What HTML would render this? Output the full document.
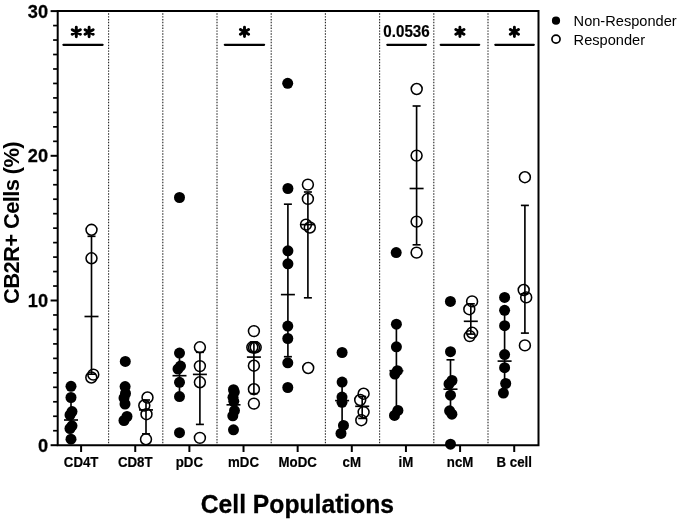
<!DOCTYPE html><html><head><meta charset="utf-8"><style>html,body{margin:0;padding:0;background:#fff;}svg{display:block;will-change:transform;}text{font-family:"Liberation Sans",sans-serif;}</style></head><body>
<svg width="685" height="520" viewBox="0 0 685 520">
<line x1="108.6" y1="13.3" x2="108.6" y2="444" stroke="#222" stroke-width="1.1" stroke-dasharray="1.43 1.427"/>
<line x1="162.8" y1="13.3" x2="162.8" y2="444" stroke="#222" stroke-width="1.1" stroke-dasharray="1.43 1.427"/>
<line x1="217.0" y1="13.3" x2="217.0" y2="444" stroke="#222" stroke-width="1.1" stroke-dasharray="1.43 1.427"/>
<line x1="271.2" y1="13.3" x2="271.2" y2="444" stroke="#222" stroke-width="1.1" stroke-dasharray="1.43 1.427"/>
<line x1="325.4" y1="13.3" x2="325.4" y2="444" stroke="#222" stroke-width="1.1" stroke-dasharray="1.43 1.427"/>
<line x1="379.6" y1="13.3" x2="379.6" y2="444" stroke="#222" stroke-width="1.1" stroke-dasharray="1.43 1.427"/>
<line x1="433.8" y1="13.3" x2="433.8" y2="444" stroke="#222" stroke-width="1.1" stroke-dasharray="1.43 1.427"/>
<line x1="488.0" y1="13.3" x2="488.0" y2="444" stroke="#222" stroke-width="1.1" stroke-dasharray="1.43 1.427"/>
<path d="M57.7 11 H538.5 V445.2 H57.7 Z" fill="none" stroke="#000" stroke-width="2"/>
<line x1="50.6" y1="445.20" x2="57.7" y2="445.20" stroke="#000" stroke-width="2"/>
<line x1="53.1" y1="430.73" x2="57.7" y2="430.73" stroke="#000" stroke-width="1.7"/>
<line x1="53.1" y1="416.26" x2="57.7" y2="416.26" stroke="#000" stroke-width="1.7"/>
<line x1="53.1" y1="401.79" x2="57.7" y2="401.79" stroke="#000" stroke-width="1.7"/>
<line x1="53.1" y1="387.32" x2="57.7" y2="387.32" stroke="#000" stroke-width="1.7"/>
<line x1="53.1" y1="372.85" x2="57.7" y2="372.85" stroke="#000" stroke-width="1.7"/>
<line x1="53.1" y1="358.38" x2="57.7" y2="358.38" stroke="#000" stroke-width="1.7"/>
<line x1="53.1" y1="343.91" x2="57.7" y2="343.91" stroke="#000" stroke-width="1.7"/>
<line x1="53.1" y1="329.44" x2="57.7" y2="329.44" stroke="#000" stroke-width="1.7"/>
<line x1="53.1" y1="314.97" x2="57.7" y2="314.97" stroke="#000" stroke-width="1.7"/>
<line x1="50.6" y1="300.50" x2="57.7" y2="300.50" stroke="#000" stroke-width="2"/>
<line x1="53.1" y1="286.03" x2="57.7" y2="286.03" stroke="#000" stroke-width="1.7"/>
<line x1="53.1" y1="271.56" x2="57.7" y2="271.56" stroke="#000" stroke-width="1.7"/>
<line x1="53.1" y1="257.09" x2="57.7" y2="257.09" stroke="#000" stroke-width="1.7"/>
<line x1="53.1" y1="242.62" x2="57.7" y2="242.62" stroke="#000" stroke-width="1.7"/>
<line x1="53.1" y1="228.15" x2="57.7" y2="228.15" stroke="#000" stroke-width="1.7"/>
<line x1="53.1" y1="213.68" x2="57.7" y2="213.68" stroke="#000" stroke-width="1.7"/>
<line x1="53.1" y1="199.21" x2="57.7" y2="199.21" stroke="#000" stroke-width="1.7"/>
<line x1="53.1" y1="184.74" x2="57.7" y2="184.74" stroke="#000" stroke-width="1.7"/>
<line x1="53.1" y1="170.27" x2="57.7" y2="170.27" stroke="#000" stroke-width="1.7"/>
<line x1="50.6" y1="155.80" x2="57.7" y2="155.80" stroke="#000" stroke-width="2"/>
<line x1="53.1" y1="141.33" x2="57.7" y2="141.33" stroke="#000" stroke-width="1.7"/>
<line x1="53.1" y1="126.86" x2="57.7" y2="126.86" stroke="#000" stroke-width="1.7"/>
<line x1="53.1" y1="112.39" x2="57.7" y2="112.39" stroke="#000" stroke-width="1.7"/>
<line x1="53.1" y1="97.92" x2="57.7" y2="97.92" stroke="#000" stroke-width="1.7"/>
<line x1="53.1" y1="83.45" x2="57.7" y2="83.45" stroke="#000" stroke-width="1.7"/>
<line x1="53.1" y1="68.98" x2="57.7" y2="68.98" stroke="#000" stroke-width="1.7"/>
<line x1="53.1" y1="54.51" x2="57.7" y2="54.51" stroke="#000" stroke-width="1.7"/>
<line x1="53.1" y1="40.04" x2="57.7" y2="40.04" stroke="#000" stroke-width="1.7"/>
<line x1="53.1" y1="25.57" x2="57.7" y2="25.57" stroke="#000" stroke-width="1.7"/>
<line x1="50.6" y1="11.10" x2="57.7" y2="11.10" stroke="#000" stroke-width="2"/>
<text transform="translate(48.1 451.80) scale(0.95 1)" font-size="19.2" font-weight="bold" text-anchor="end" stroke="#000" stroke-width="0.25">0</text>
<text transform="translate(48.1 307.10) scale(0.95 1)" font-size="19.2" font-weight="bold" text-anchor="end" stroke="#000" stroke-width="0.25">10</text>
<text transform="translate(48.1 162.40) scale(0.95 1)" font-size="19.2" font-weight="bold" text-anchor="end" stroke="#000" stroke-width="0.25">20</text>
<text transform="translate(48.1 17.70) scale(0.95 1)" font-size="19.2" font-weight="bold" text-anchor="end" stroke="#000" stroke-width="0.25">30</text>
<line x1="81.10" y1="445" x2="81.10" y2="452" stroke="#000" stroke-width="2"/>
<text transform="translate(81.10 466.5) scale(0.94 1)" font-size="14.1" font-weight="bold" text-anchor="middle" stroke="#000" stroke-width="0.2">CD4T</text>
<line x1="135.24" y1="445" x2="135.24" y2="452" stroke="#000" stroke-width="2"/>
<text transform="translate(135.24 466.5) scale(0.94 1)" font-size="14.1" font-weight="bold" text-anchor="middle" stroke="#000" stroke-width="0.2">CD8T</text>
<line x1="189.38" y1="445" x2="189.38" y2="452" stroke="#000" stroke-width="2"/>
<text transform="translate(189.38 466.5) scale(0.94 1)" font-size="14.1" font-weight="bold" text-anchor="middle" stroke="#000" stroke-width="0.2">pDC</text>
<line x1="243.52" y1="445" x2="243.52" y2="452" stroke="#000" stroke-width="2"/>
<text transform="translate(243.52 466.5) scale(0.94 1)" font-size="14.1" font-weight="bold" text-anchor="middle" stroke="#000" stroke-width="0.2">mDC</text>
<line x1="297.66" y1="445" x2="297.66" y2="452" stroke="#000" stroke-width="2"/>
<text transform="translate(297.66 466.5) scale(0.94 1)" font-size="14.1" font-weight="bold" text-anchor="middle" stroke="#000" stroke-width="0.2">MoDC</text>
<line x1="351.80" y1="445" x2="351.80" y2="452" stroke="#000" stroke-width="2"/>
<text transform="translate(351.80 466.5) scale(0.94 1)" font-size="14.1" font-weight="bold" text-anchor="middle" stroke="#000" stroke-width="0.2">cM</text>
<line x1="405.94" y1="445" x2="405.94" y2="452" stroke="#000" stroke-width="2"/>
<text transform="translate(405.94 466.5) scale(0.94 1)" font-size="14.1" font-weight="bold" text-anchor="middle" stroke="#000" stroke-width="0.2">iM</text>
<line x1="460.08" y1="445" x2="460.08" y2="452" stroke="#000" stroke-width="2"/>
<text transform="translate(460.08 466.5) scale(0.94 1)" font-size="14.1" font-weight="bold" text-anchor="middle" stroke="#000" stroke-width="0.2">ncM</text>
<line x1="514.22" y1="445" x2="514.22" y2="452" stroke="#000" stroke-width="2"/>
<text transform="translate(514.22 466.5) scale(0.94 1)" font-size="14.1" font-weight="bold" text-anchor="middle" stroke="#000" stroke-width="0.2">B cell</text>
<line x1="71" y1="397.5" x2="71" y2="428" stroke="#000" stroke-width="1.65"/>
<line x1="67" y1="397.5" x2="75" y2="397.5" stroke="#000" stroke-width="1.65"/>
<line x1="67" y1="428" x2="75" y2="428" stroke="#000" stroke-width="1.65"/>
<line x1="64" y1="420.0" x2="78" y2="420.0" stroke="#000" stroke-width="1.65"/>
<line x1="91.5" y1="236.3" x2="91.5" y2="374.2" stroke="#000" stroke-width="1.65"/>
<line x1="87.5" y1="236.3" x2="95.5" y2="236.3" stroke="#000" stroke-width="1.65"/>
<line x1="87.5" y1="374.2" x2="95.5" y2="374.2" stroke="#000" stroke-width="1.65"/>
<line x1="84.5" y1="316.5" x2="98.5" y2="316.5" stroke="#000" stroke-width="1.65"/>
<line x1="146" y1="400" x2="146" y2="433.9" stroke="#000" stroke-width="1.65"/>
<line x1="142" y1="400" x2="150" y2="400" stroke="#000" stroke-width="1.65"/>
<line x1="142" y1="433.9" x2="150" y2="433.9" stroke="#000" stroke-width="1.65"/>
<line x1="139" y1="409.9" x2="153" y2="409.9" stroke="#000" stroke-width="1.65"/>
<line x1="179.5" y1="353.1" x2="179.5" y2="396.6" stroke="#000" stroke-width="1.65"/>
<line x1="175.5" y1="353.1" x2="183.5" y2="353.1" stroke="#000" stroke-width="1.65"/>
<line x1="175.5" y1="396.6" x2="183.5" y2="396.6" stroke="#000" stroke-width="1.65"/>
<line x1="172.5" y1="375.7" x2="186.5" y2="375.7" stroke="#000" stroke-width="1.65"/>
<line x1="199.9" y1="352.3" x2="199.9" y2="424.4" stroke="#000" stroke-width="1.65"/>
<line x1="195.9" y1="352.3" x2="203.9" y2="352.3" stroke="#000" stroke-width="1.65"/>
<line x1="195.9" y1="424.4" x2="203.9" y2="424.4" stroke="#000" stroke-width="1.65"/>
<line x1="192.9" y1="374.4" x2="206.9" y2="374.4" stroke="#000" stroke-width="1.65"/>
<line x1="226.5" y1="404.8" x2="240.5" y2="404.8" stroke="#000" stroke-width="1.65"/>
<line x1="253.9" y1="342" x2="253.9" y2="393.6" stroke="#000" stroke-width="1.65"/>
<line x1="249.9" y1="342" x2="257.9" y2="342" stroke="#000" stroke-width="1.65"/>
<line x1="249.9" y1="393.6" x2="257.9" y2="393.6" stroke="#000" stroke-width="1.65"/>
<line x1="246.9" y1="357.1" x2="260.9" y2="357.1" stroke="#000" stroke-width="1.65"/>
<line x1="287.9" y1="204.2" x2="287.9" y2="356.7" stroke="#000" stroke-width="1.65"/>
<line x1="283.9" y1="204.2" x2="291.9" y2="204.2" stroke="#000" stroke-width="1.65"/>
<line x1="283.9" y1="356.7" x2="291.9" y2="356.7" stroke="#000" stroke-width="1.65"/>
<line x1="280.9" y1="294.6" x2="294.9" y2="294.6" stroke="#000" stroke-width="1.65"/>
<line x1="307.9" y1="192" x2="307.9" y2="297.8" stroke="#000" stroke-width="1.65"/>
<line x1="303.9" y1="192" x2="311.9" y2="192" stroke="#000" stroke-width="1.65"/>
<line x1="303.9" y1="297.8" x2="311.9" y2="297.8" stroke="#000" stroke-width="1.65"/>
<line x1="300.9" y1="224.6" x2="314.9" y2="224.6" stroke="#000" stroke-width="1.65"/>
<line x1="342.1" y1="382.1" x2="342.1" y2="425.4" stroke="#000" stroke-width="1.65"/>
<line x1="338.1" y1="382.1" x2="346.1" y2="382.1" stroke="#000" stroke-width="1.65"/>
<line x1="338.1" y1="425.4" x2="346.1" y2="425.4" stroke="#000" stroke-width="1.65"/>
<line x1="335.1" y1="400.6" x2="349.1" y2="400.6" stroke="#000" stroke-width="1.65"/>
<line x1="362.2" y1="396.5" x2="362.2" y2="418.4" stroke="#000" stroke-width="1.65"/>
<line x1="358.2" y1="396.5" x2="366.2" y2="396.5" stroke="#000" stroke-width="1.65"/>
<line x1="358.2" y1="418.4" x2="366.2" y2="418.4" stroke="#000" stroke-width="1.65"/>
<line x1="355.2" y1="406.3" x2="369.2" y2="406.3" stroke="#000" stroke-width="1.65"/>
<line x1="396.4" y1="324.2" x2="396.4" y2="410.4" stroke="#000" stroke-width="1.65"/>
<line x1="392.4" y1="324.2" x2="400.4" y2="324.2" stroke="#000" stroke-width="1.65"/>
<line x1="392.4" y1="410.4" x2="400.4" y2="410.4" stroke="#000" stroke-width="1.65"/>
<line x1="389.4" y1="370.7" x2="403.4" y2="370.7" stroke="#000" stroke-width="1.65"/>
<line x1="416.6" y1="106" x2="416.6" y2="244.8" stroke="#000" stroke-width="1.65"/>
<line x1="412.6" y1="106" x2="420.6" y2="106" stroke="#000" stroke-width="1.65"/>
<line x1="412.6" y1="244.8" x2="420.6" y2="244.8" stroke="#000" stroke-width="1.65"/>
<line x1="409.6" y1="188.5" x2="423.6" y2="188.5" stroke="#000" stroke-width="1.65"/>
<line x1="450.5" y1="359.8" x2="450.5" y2="414" stroke="#000" stroke-width="1.65"/>
<line x1="446.5" y1="359.8" x2="454.5" y2="359.8" stroke="#000" stroke-width="1.65"/>
<line x1="446.5" y1="414" x2="454.5" y2="414" stroke="#000" stroke-width="1.65"/>
<line x1="443.5" y1="389.2" x2="457.5" y2="389.2" stroke="#000" stroke-width="1.65"/>
<line x1="470.8" y1="303.8" x2="470.8" y2="334.1" stroke="#000" stroke-width="1.65"/>
<line x1="466.8" y1="303.8" x2="474.8" y2="303.8" stroke="#000" stroke-width="1.65"/>
<line x1="466.8" y1="334.1" x2="474.8" y2="334.1" stroke="#000" stroke-width="1.65"/>
<line x1="463.8" y1="321.3" x2="477.8" y2="321.3" stroke="#000" stroke-width="1.65"/>
<line x1="504.6" y1="310.3" x2="504.6" y2="383.5" stroke="#000" stroke-width="1.65"/>
<line x1="500.6" y1="310.3" x2="508.6" y2="310.3" stroke="#000" stroke-width="1.65"/>
<line x1="500.6" y1="383.5" x2="508.6" y2="383.5" stroke="#000" stroke-width="1.65"/>
<line x1="497.6" y1="361.1" x2="511.6" y2="361.1" stroke="#000" stroke-width="1.65"/>
<line x1="524.9" y1="205.4" x2="524.9" y2="333.1" stroke="#000" stroke-width="1.65"/>
<line x1="520.9" y1="205.4" x2="528.9" y2="205.4" stroke="#000" stroke-width="1.65"/>
<line x1="520.9" y1="333.1" x2="528.9" y2="333.1" stroke="#000" stroke-width="1.65"/>
<line x1="521" y1="293.8" x2="528.5" y2="293.8" stroke="#000" stroke-width="1.65"/>
<circle cx="71" cy="386.3" r="5.5" fill="#000"/>
<circle cx="71" cy="397.5" r="5.5" fill="#000"/>
<circle cx="72" cy="411.6" r="5.5" fill="#000"/>
<circle cx="70" cy="415" r="5.5" fill="#000"/>
<circle cx="72" cy="425.8" r="5.5" fill="#000"/>
<circle cx="70" cy="428.5" r="5.5" fill="#000"/>
<circle cx="71" cy="439.2" r="5.5" fill="#000"/>
<circle cx="125.3" cy="361.4" r="5.5" fill="#000"/>
<circle cx="125.1" cy="386.6" r="5.5" fill="#000"/>
<circle cx="125.5" cy="393.5" r="5.5" fill="#000"/>
<circle cx="124" cy="398" r="5.5" fill="#000"/>
<circle cx="125" cy="404" r="5.5" fill="#000"/>
<circle cx="127" cy="416.5" r="5.5" fill="#000"/>
<circle cx="124" cy="420.5" r="5.5" fill="#000"/>
<circle cx="179.5" cy="197.5" r="5.5" fill="#000"/>
<circle cx="179.5" cy="353.1" r="5.5" fill="#000"/>
<circle cx="180.5" cy="366.1" r="5.5" fill="#000"/>
<circle cx="178" cy="369" r="5.5" fill="#000"/>
<circle cx="179.5" cy="382.3" r="5.5" fill="#000"/>
<circle cx="179.5" cy="396.6" r="5.5" fill="#000"/>
<circle cx="179.5" cy="432.7" r="5.5" fill="#000"/>
<circle cx="233.5" cy="389.7" r="5.5" fill="#000"/>
<circle cx="234.3" cy="392" r="5.5" fill="#000"/>
<circle cx="233" cy="397.3" r="5.5" fill="#000"/>
<circle cx="233.8" cy="401.3" r="5.5" fill="#000"/>
<circle cx="234.5" cy="410.6" r="5.5" fill="#000"/>
<circle cx="232.8" cy="415.8" r="5.5" fill="#000"/>
<circle cx="233.5" cy="429.8" r="5.5" fill="#000"/>
<circle cx="287.7" cy="83.3" r="5.5" fill="#000"/>
<circle cx="287.9" cy="188.5" r="5.5" fill="#000"/>
<circle cx="287.9" cy="250.8" r="5.5" fill="#000"/>
<circle cx="287.9" cy="263.8" r="5.5" fill="#000"/>
<circle cx="287.8" cy="326.1" r="5.5" fill="#000"/>
<circle cx="287.8" cy="338.5" r="5.5" fill="#000"/>
<circle cx="287.8" cy="362.8" r="5.5" fill="#000"/>
<circle cx="287.8" cy="387.5" r="5.5" fill="#000"/>
<circle cx="342.1" cy="352.5" r="5.5" fill="#000"/>
<circle cx="342.1" cy="382.1" r="5.5" fill="#000"/>
<circle cx="342" cy="397.1" r="5.5" fill="#000"/>
<circle cx="342" cy="402.3" r="5.5" fill="#000"/>
<circle cx="343.5" cy="425.4" r="5.5" fill="#000"/>
<circle cx="341" cy="433.4" r="5.5" fill="#000"/>
<circle cx="396.2" cy="252.6" r="5.5" fill="#000"/>
<circle cx="396.4" cy="324.2" r="5.5" fill="#000"/>
<circle cx="396.4" cy="346.8" r="5.5" fill="#000"/>
<circle cx="397.4" cy="370.7" r="5.5" fill="#000"/>
<circle cx="394.9" cy="374" r="5.5" fill="#000"/>
<circle cx="397.9" cy="410.4" r="5.5" fill="#000"/>
<circle cx="394.5" cy="415.4" r="5.5" fill="#000"/>
<circle cx="450.4" cy="301.4" r="5.5" fill="#000"/>
<circle cx="450.5" cy="351.7" r="5.5" fill="#000"/>
<circle cx="452" cy="380.5" r="5.5" fill="#000"/>
<circle cx="449" cy="384" r="5.5" fill="#000"/>
<circle cx="450.5" cy="395.2" r="5.5" fill="#000"/>
<circle cx="449.6" cy="410.8" r="5.5" fill="#000"/>
<circle cx="451.9" cy="414.2" r="5.5" fill="#000"/>
<circle cx="450.5" cy="444.2" r="5.5" fill="#000"/>
<circle cx="504.6" cy="297.4" r="5.5" fill="#000"/>
<circle cx="504.6" cy="310.3" r="5.5" fill="#000"/>
<circle cx="504.6" cy="325.7" r="5.5" fill="#000"/>
<circle cx="504.6" cy="354.6" r="5.5" fill="#000"/>
<circle cx="504.6" cy="367.7" r="5.5" fill="#000"/>
<circle cx="505.7" cy="383.5" r="5.5" fill="#000"/>
<circle cx="503.4" cy="393.1" r="5.5" fill="#000"/>
<circle cx="91.5" cy="229.8" r="5.45" fill="none" stroke="#000" stroke-width="1.55"/>
<circle cx="91.5" cy="258.3" r="5.45" fill="none" stroke="#000" stroke-width="1.55"/>
<circle cx="91.3" cy="377.5" r="5.45" fill="none" stroke="#000" stroke-width="1.55"/>
<circle cx="93.3" cy="374.6" r="5.45" fill="none" stroke="#000" stroke-width="1.55"/>
<circle cx="147.5" cy="397.5" r="5.45" fill="none" stroke="#000" stroke-width="1.55"/>
<circle cx="144.3" cy="405.5" r="5.45" fill="none" stroke="#000" stroke-width="1.55"/>
<circle cx="146.5" cy="414.2" r="5.45" fill="none" stroke="#000" stroke-width="1.55"/>
<circle cx="146" cy="439.3" r="5.45" fill="none" stroke="#000" stroke-width="1.55"/>
<circle cx="199.9" cy="347.3" r="5.45" fill="none" stroke="#000" stroke-width="1.55"/>
<circle cx="199.9" cy="366.1" r="5.45" fill="none" stroke="#000" stroke-width="1.55"/>
<circle cx="199.9" cy="382.3" r="5.45" fill="none" stroke="#000" stroke-width="1.55"/>
<circle cx="199.9" cy="437.9" r="5.45" fill="none" stroke="#000" stroke-width="1.55"/>
<circle cx="253.9" cy="331.1" r="5.45" fill="none" stroke="#000" stroke-width="1.55"/>
<circle cx="252.3" cy="347.3" r="5.45" fill="none" stroke="#000" stroke-width="1.55"/>
<circle cx="254" cy="347.5" r="5.45" fill="none" stroke="#000" stroke-width="1.55"/>
<circle cx="255.7" cy="347.3" r="5.45" fill="none" stroke="#000" stroke-width="1.55"/>
<circle cx="253.9" cy="365.7" r="5.45" fill="none" stroke="#000" stroke-width="1.55"/>
<circle cx="253.9" cy="389.2" r="5.45" fill="none" stroke="#000" stroke-width="1.55"/>
<circle cx="253.9" cy="403.6" r="5.45" fill="none" stroke="#000" stroke-width="1.55"/>
<circle cx="307.9" cy="184.6" r="5.45" fill="none" stroke="#000" stroke-width="1.55"/>
<circle cx="307.9" cy="198.9" r="5.45" fill="none" stroke="#000" stroke-width="1.55"/>
<circle cx="306" cy="224.6" r="5.45" fill="none" stroke="#000" stroke-width="1.55"/>
<circle cx="309.8" cy="227.5" r="5.45" fill="none" stroke="#000" stroke-width="1.55"/>
<circle cx="308.2" cy="368" r="5.45" fill="none" stroke="#000" stroke-width="1.55"/>
<circle cx="363.6" cy="393.7" r="5.45" fill="none" stroke="#000" stroke-width="1.55"/>
<circle cx="360.2" cy="400" r="5.45" fill="none" stroke="#000" stroke-width="1.55"/>
<circle cx="363.6" cy="412.1" r="5.45" fill="none" stroke="#000" stroke-width="1.55"/>
<circle cx="361.3" cy="420.2" r="5.45" fill="none" stroke="#000" stroke-width="1.55"/>
<circle cx="416.7" cy="89" r="5.45" fill="none" stroke="#000" stroke-width="1.55"/>
<circle cx="416.6" cy="155.6" r="5.45" fill="none" stroke="#000" stroke-width="1.55"/>
<circle cx="416.6" cy="221.6" r="5.45" fill="none" stroke="#000" stroke-width="1.55"/>
<circle cx="416.6" cy="252.6" r="5.45" fill="none" stroke="#000" stroke-width="1.55"/>
<circle cx="472.1" cy="301.4" r="5.45" fill="none" stroke="#000" stroke-width="1.55"/>
<circle cx="469.3" cy="309.2" r="5.45" fill="none" stroke="#000" stroke-width="1.55"/>
<circle cx="472.1" cy="332.8" r="5.45" fill="none" stroke="#000" stroke-width="1.55"/>
<circle cx="469.7" cy="336.1" r="5.45" fill="none" stroke="#000" stroke-width="1.55"/>
<circle cx="524.9" cy="177.2" r="5.45" fill="none" stroke="#000" stroke-width="1.55"/>
<circle cx="523.7" cy="290" r="5.45" fill="none" stroke="#000" stroke-width="1.55"/>
<circle cx="526.2" cy="297.4" r="5.45" fill="none" stroke="#000" stroke-width="1.55"/>
<circle cx="524.9" cy="345.4" r="5.45" fill="none" stroke="#000" stroke-width="1.55"/>
<path d="M76.30 27.30L76.30 36.70M72.23 29.65L80.37 34.35M80.37 29.65L72.23 34.35M89.10 27.30L89.10 36.70M85.03 29.65L93.17 34.35M93.17 29.65L85.03 34.35M244.50 27.20L244.50 36.60M240.43 29.55L248.57 34.25M248.57 29.55L240.43 34.25M459.90 27.20L459.90 36.60M455.83 29.55L463.97 34.25M463.97 29.55L455.83 34.25M514.40 27.20L514.40 36.60M510.33 29.55L518.47 34.25M518.47 29.55L510.33 34.25" stroke="#000" stroke-width="2.9" stroke-linecap="round" fill="none"/>
<line x1="63.4" y1="44.8" x2="102.6" y2="44.8" stroke="#000" stroke-width="2.2" stroke-linecap="round"/>
<line x1="224.8" y1="44.8" x2="264.1" y2="44.8" stroke="#000" stroke-width="2.2" stroke-linecap="round"/>
<line x1="387.3" y1="44.8" x2="425.9" y2="44.8" stroke="#000" stroke-width="2.2" stroke-linecap="round"/>
<line x1="440.7" y1="44.8" x2="479.2" y2="44.8" stroke="#000" stroke-width="2.2" stroke-linecap="round"/>
<line x1="495.3" y1="44.8" x2="533.8" y2="44.8" stroke="#000" stroke-width="2.2" stroke-linecap="round"/>
<text transform="translate(406.5 36.9) scale(0.96 1)" font-size="15.8" font-weight="bold" text-anchor="middle" stroke="#000" stroke-width="0.2">0.0536</text>
<circle cx="556" cy="20.7" r="4.1" fill="#000"/>
<circle cx="556" cy="39.1" r="4.05" fill="none" stroke="#000" stroke-width="1.7"/>
<text x="573.6" y="26" font-size="14.6">Non-Responder</text>
<text x="573.6" y="44.6" font-size="14.6">Responder</text>
<text transform="translate(297.4 513.4) scale(0.95 1)" font-size="26" font-weight="bold" text-anchor="middle" stroke="#000" stroke-width="0.3">Cell Populations</text>
<text transform="translate(18.8 223) rotate(-90)" x="0" y="0" font-size="22" letter-spacing="-0.65" font-weight="bold" text-anchor="middle">CB2R+ Cells (%)</text>
</svg></body></html>
